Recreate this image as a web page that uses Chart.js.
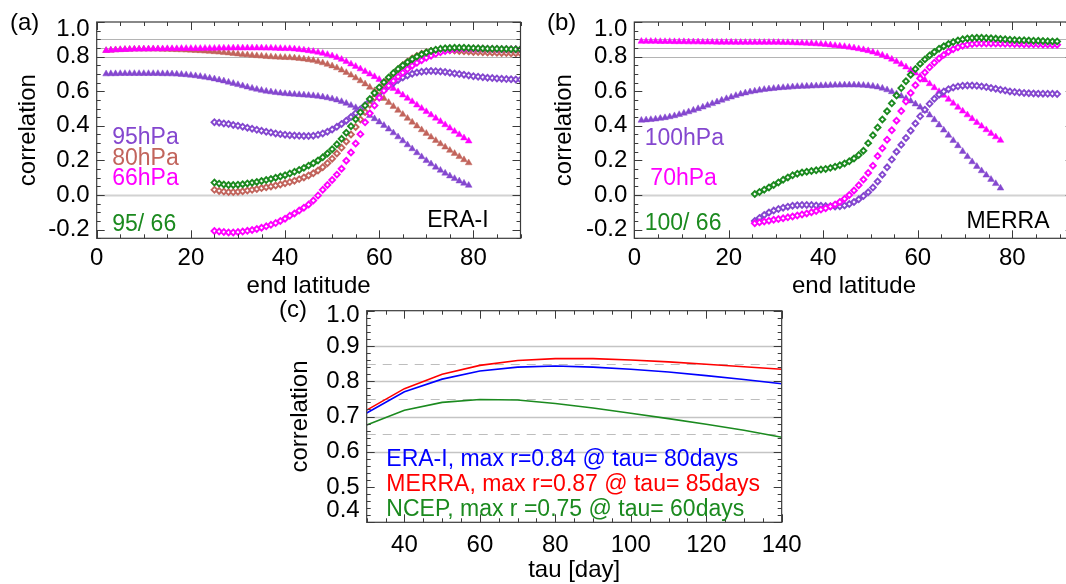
<!DOCTYPE html>
<html><head><meta charset="utf-8">
<script src="https://cdn.jsdelivr.net/npm/chart.js@4.4.0/dist/chart.umd.min.js"></script>
<style>
html,body{margin:0;padding:0;background:#fff;overflow:hidden;width:1066px;height:584px;position:relative;}
canvas{position:absolute;}
</style></head><body>
<canvas id="ca" width="560" height="300" style="left:0;top:0"></canvas>
<canvas id="cb" width="560" height="300" style="left:540px;top:0"></canvas>
<canvas id="cc" width="540" height="294" style="left:270px;top:290px"></canvas>
<script>
// ---------------- DATA ----------------
// Panel (a) ERA-I : triangles start at 2N (1 deg step), diamonds start at 25N
const eraTriStart = 2, eraDiaStart = 25;
const eraTri95 = [0.700,0.701,0.701,0.702,0.702,0.702,0.702,0.702,0.702,0.702,0.702,0.702,0.701,0.701,0.700,0.699,0.697,0.695,0.692,
 0.689,0.685,0.681,0.676,0.671,0.665,0.659,0.652,0.645,0.638,0.631,0.624,0.617,0.611,0.605,0.600,0.596,0.592,0.589,0.586,
 0.584,0.582,0.580,0.578,0.576,0.574,0.571,0.567,0.562,0.556,0.549,0.540,0.530,0.518,0.505,0.491,0.476,0.459,0.441,0.422,
 0.402,0.381,0.359,0.336,0.313,0.290,0.267,0.244,0.221,0.199,0.180,0.161,0.143,0.126,0.110,0.095,0.081,0.068,0.056];
const eraTri80 = [0.835,0.837,0.839,0.840,0.841,0.842,0.843,0.843,0.843,0.843,0.843,0.843,0.842,0.842,0.841,0.840,0.839,0.838,0.837,
 0.835,0.834,0.832,0.830,0.828,0.826,0.823,0.821,0.818,0.815,0.812,0.810,0.807,0.805,0.803,0.801,0.799,0.797,0.796,0.795,
 0.794,0.792,0.789,0.786,0.782,0.778,0.771,0.764,0.755,0.746,0.735,0.722,0.708,0.693,0.677,0.660,0.642,0.623,0.603,0.580,
 0.558,0.535,0.512,0.489,0.466,0.443,0.421,0.399,0.377,0.356,0.335,0.315,0.296,0.277,0.258,0.240,0.222,0.204,0.186];
const eraTri66 = [0.835,0.837,0.839,0.840,0.841,0.842,0.843,0.843,0.844,0.844,0.845,0.845,0.845,0.846,0.846,0.846,0.847,0.847,0.847,
 0.847,0.847,0.848,0.848,0.848,0.849,0.849,0.849,0.850,0.850,0.850,0.850,0.850,0.850,0.850,0.849,0.849,0.848,0.847,0.846,
 0.846,0.844,0.841,0.838,0.834,0.830,0.825,0.819,0.812,0.804,0.795,0.784,0.771,0.757,0.743,0.729,0.714,0.699,0.684,0.668,
 0.653,0.635,0.616,0.597,0.578,0.559,0.540,0.520,0.501,0.482,0.463,0.444,0.425,0.406,0.387,0.368,0.349,0.330,0.312];
const eraDia95 = [0.421,0.418,0.414,0.410,0.405,0.400,0.395,0.389,0.383,0.377,0.371,0.366,0.361,0.356,0.352,0.349,
 0.346,0.344,0.342,0.341,0.341,0.343,0.348,0.356,0.366,0.379,
 0.394,0.411,0.430,0.451,0.473,0.496,0.519,0.542,0.565,0.588,
 0.610,0.630,0.648,0.665,0.679,0.691,0.701,0.708,0.713,0.716,
 0.717,0.716,0.714,0.711,0.707,0.703,0.699,0.695,0.691,0.687,
 0.684,0.681,0.678,0.676,0.674,0.672,0.670,0.669,0.668,0.667];
const eraDia80 = [0.030,0.024,0.020,0.017,0.017,0.019,0.022,0.026,0.030,0.035,0.040,0.045,0.050,0.055,0.061,0.068,
 0.075,0.083,0.092,0.102,0.113,0.126,0.142,0.161,0.184,0.210,
 0.240,0.273,0.310,0.350,0.393,0.437,0.480,0.522,0.562,0.600,
 0.636,0.669,0.699,0.726,0.750,0.771,0.789,0.804,0.816,0.825,
 0.832,0.836,0.838,0.838,0.837,0.835,0.833,0.831,0.829,0.827,
 0.826,0.825,0.824,0.823,0.822,0.821,0.821,0.820,0.820,0.819];
const eraDia66 = [-0.208,-0.211,-0.214,-0.216,-0.216,-0.214,-0.211,-0.207,-0.202,-0.196,-0.189,-0.181,-0.172,-0.162,-0.150,-0.137,
 -0.120,-0.106,-0.090,-0.073,-0.055,-0.032,-0.003,0.030,0.058,0.087,
 0.118,0.152,0.198,0.246,0.298,0.352,0.420,0.472,0.518,0.562,
 0.603,0.632,0.659,0.684,0.707,0.728,0.747,0.764,0.779,0.793,
 0.805,0.816,0.825,0.832,0.838,0.842,0.845,0.846,0.846,0.846,
 0.845,0.845,0.844,0.844,0.843,0.843,0.842,0.842,0.842,0.841];
const eraDia95_66 = [0.072,0.066,0.061,0.058,0.058,0.060,0.063,0.067,0.071,0.076,0.081,0.087,0.093,0.100,0.107,0.115,
 0.124,0.134,0.145,0.157,0.170,0.184,0.200,0.218,0.240,0.265,
 0.293,0.325,0.360,0.398,0.438,0.478,0.517,0.555,0.590,0.622,
 0.652,0.680,0.705,0.728,0.749,0.768,0.785,0.800,0.813,0.824,
 0.833,0.840,0.845,0.848,0.850,0.851,0.851,0.851,0.850,0.849,
 0.848,0.847,0.846,0.845,0.845,0.844,0.844,0.843,0.843,0.842];

// Panel (b) MERRA : triangles start at 1.5N, diamonds at 25.5N (1 deg step)
const merTriStart = 1.5, merDiaStart = 25.5;
const merTri100 = [0.432,0.434,0.436,0.439,0.443,0.447,0.452,0.458,0.465,0.473,0.481,0.490,0.499,0.508,0.518,0.528,0.538,0.548,0.557,0.566,
 0.575,0.583,0.590,0.596,0.601,0.606,0.610,0.613,0.616,0.619,0.621,0.623,0.625,0.627,0.628,0.629,0.630,0.631,0.632,0.633,
 0.634,0.635,0.635,0.636,0.636,0.636,0.635,0.634,0.632,0.629,0.624,0.617,0.608,0.597,0.585,0.572,0.558,0.543,0.526,0.508,
 0.488,0.462,0.435,0.405,0.375,0.345,0.315,0.285,0.252,0.222,0.192,0.165,0.140,0.115,0.090,0.066,0.040];
const merTri70 = [0.888,0.888,0.888,0.888,0.887,0.887,0.887,0.886,0.886,0.886,0.885,0.885,0.885,0.884,0.884,0.884,0.883,0.883,0.883,0.883,
 0.882,0.882,0.882,0.882,0.882,0.882,0.882,0.882,0.882,0.882,0.881,0.881,0.880,0.879,0.878,0.877,0.876,0.874,0.872,0.870,
 0.867,0.864,0.861,0.858,0.854,0.850,0.845,0.840,0.834,0.826,0.818,0.808,0.798,0.785,0.771,0.756,0.740,0.723,0.705,0.686,
 0.665,0.643,0.620,0.598,0.576,0.553,0.530,0.507,0.485,0.463,0.441,0.419,0.398,0.377,0.356,0.336,0.316];
const merDia100 = [-0.150,-0.132,-0.115,-0.101,-0.090,-0.081,-0.073,-0.067,-0.062,-0.059,-0.057,-0.057,-0.058,-0.060,-0.062,-0.064,
 -0.065,-0.066,-0.065,-0.060,-0.052,-0.040,-0.025,-0.006,0.016,0.043,
 0.078,0.117,0.160,0.205,0.250,0.290,0.330,0.372,0.414,0.455,
 0.493,0.527,0.556,0.580,0.598,0.612,0.622,0.628,0.632,0.633,
 0.633,0.631,0.628,0.624,0.619,0.614,0.609,0.604,0.599,0.595,
 0.592,0.590,0.588,0.587,0.586,0.586,0.585,0.585,0.584];
const merDia70 = [-0.163,-0.158,-0.153,-0.148,-0.143,-0.139,-0.134,-0.129,-0.124,-0.118,-0.112,-0.106,-0.099,-0.092,-0.084,-0.076,
 -0.066,-0.054,-0.040,-0.022,0.000,0.026,0.056,0.090,0.128,0.169,
 0.225,0.270,0.320,0.375,0.430,0.485,0.540,0.590,0.635,0.674,
 0.708,0.738,0.765,0.789,0.810,0.828,0.843,0.854,0.863,0.869,
 0.873,0.875,0.876,0.876,0.876,0.875,0.875,0.874,0.874,0.873,
 0.873,0.872,0.872,0.871,0.871,0.870,0.870,0.869,0.869];
const merDia100_66 = [0.006,0.018,0.031,0.044,0.058,0.073,0.088,0.102,0.114,0.123,0.130,0.135,0.139,0.143,0.147,0.151,
 0.157,0.164,0.172,0.182,0.195,0.211,0.231,0.256,0.300,0.345,
 0.390,0.437,0.484,0.530,0.575,0.618,0.658,0.695,0.728,0.758,
 0.784,0.807,0.827,0.845,0.860,0.873,0.884,0.893,0.900,0.905,
 0.908,0.909,0.909,0.908,0.906,0.904,0.902,0.900,0.898,0.896,
 0.895,0.894,0.893,0.892,0.891,0.890,0.889,0.888,0.888];

// Panel (c)
const tauDays = [30,40,50,60,70,80,90,100,110,120,130,140];
const corrERAI  = [0.710,0.770,0.806,0.829,0.840,0.843,0.840,0.834,0.826,0.816,0.805,0.793];
const corrMERRA = [0.718,0.779,0.820,0.845,0.859,0.864,0.864,0.860,0.855,0.848,0.841,0.834];
const corrNCEP  = [0.676,0.718,0.740,0.748,0.747,0.737,0.724,0.709,0.694,0.678,0.661,0.641];

// tick labels
const latTicks = [0,20,40,60,80];
const corrTicksAB = [-0.2,0,0.2,0.4,0.6,0.8,1.0];
const tauTicks = [40,60,80,100,120,140];
const corrTicksC = [0.4,0.5,0.6,0.7,0.8,0.9,1.0];

// ---------------- STYLE ----------------
const PURPLE = '#8447cf', BROWN = '#c2645c', MAGENTA = '#ff00ff', GREEN = '#1b8a1f';
const FONT = "'Liberation Sans', Arial, Helvetica, sans-serif";
const AXC = '#3a3a3a';

function lats(start, n){ return Array.from({length:n}, (_, i) => start + i); }
function pts(xs, ys){ return ys.map((v, i) => ({x: xs[i], y: v})); }
function alpha(hex, a){ const n = parseInt(hex.slice(1),16); return `rgba(${n>>16},${(n>>8)&255},${n&255},${a})`; }
function tri(data, color){ return {data, pointStyle:'triangle', pointRadius:3.9, pointBorderWidth:1, backgroundColor:color, borderColor:alpha(color,0.45), showLine:false}; }
function dia(data, color){ return {data, pointStyle:'rectRot', pointRadius:2.9, pointBorderWidth:1.9, backgroundColor:'#ffffff', borderColor:color, showLine:false}; }
function steps(min, max, st){ const a=[]; for(let i=0;;i++){ const v=+(min+i*st).toFixed(6); if(v>max+1e-9) break; a.push(v);} return a; }

function framePlugin(o){
  return {
    id:'frame'+o.key,
    beforeDatasetsDraw(chart){
      const {ctx, chartArea:a, scales:{x,y}} = chart;
      ctx.save();
      o.grid.forEach(g => {
        const py = Math.round(y.getPixelForValue(g.v)) + 0.5;
        ctx.strokeStyle = g.c; ctx.lineWidth = g.w; ctx.setLineDash(g.d || []);
        ctx.beginPath(); ctx.moveTo(a.left, py); ctx.lineTo(a.right, py); ctx.stroke();
      });
      ctx.restore();
    },
    afterDraw(chart){
      const {ctx, chartArea:a, scales:{x,y}} = chart;
      ctx.save();
      ctx.strokeStyle = AXC; ctx.lineWidth = 1.2; ctx.setLineDash([]);
      ctx.strokeRect(a.left, a.top, a.right-a.left, a.bottom-a.top);
      const tick = (x1,y1,x2,y2)=>{ ctx.beginPath(); ctx.moveTo(x1,y1); ctx.lineTo(x2,y2); ctx.stroke(); };
      ctx.lineWidth = 1;
      steps(o.xmin, o.xmax, o.xminor).forEach(v => {
        const major = o.xmajor.some(m => Math.abs(m-v)<1e-6);
        const L = major ? 8 : 4; const px = Math.round(x.getPixelForValue(v))+0.5;
        tick(px, a.bottom, px, a.bottom-L); tick(px, a.top, px, a.top+L);
      });
      steps(o.ymin, o.ymax, o.yminor).forEach(v => {
        const major = o.ymajor.some(m => Math.abs(m-v)<1e-6);
        const L = major ? 8 : 4; const py = Math.round(y.getPixelForValue(v))+0.5;
        tick(a.left, py, a.left+L, py); tick(a.right, py, a.right-L, py);
      });
      ctx.textBaseline = 'alphabetic'; ctx.textAlign = 'left';
      o.texts.forEach(t => {
        ctx.font = `${t.s||23}px ${FONT}`; ctx.fillStyle = t.c;
        ctx.fillText(t.t, x.getPixelForValue(t.x), y.getPixelForValue(t.y));
      });
      ctx.font = `24px ${FONT}`; ctx.fillStyle = '#000'; ctx.textBaseline = 'middle';
      ctx.fillText(o.letter.t, o.letter.x, o.letter.y);
      ctx.restore();
    }
  };
}

function makeChart(id, datasets, o){
  const tickFont = {family:FONT, size:24};
  const titleFont = {family:FONT, size:24, lineHeight:1.1};
  const shift = o.yshift || {};
  const ylab = v => Number(v).toFixed(1);
  return new Chart(document.getElementById(id), {
    type:'scatter',
    data:{datasets},
    options:{
      responsive:false, animation:false, events:[],
      layout:{padding:o.pad},
      plugins:{legend:{display:false}, tooltip:{enabled:false}},
      elements:{line:{tension:0}},
      scales:{
        x:{type:'linear', min:o.xmin, max:o.xmax,
           afterBuildTicks:s=>{ s.ticks = o.xlabels.map(v=>({value:v})); },
           afterFit:s=>{ s.height = o.xh; },
           grid:{display:false, drawTicks:false}, border:{display:false},
           ticks:{font:tickFont, color:'#000', padding:o.xpad, maxRotation:0, autoSkip:false, callback:v=>String(v)},
           title:{display:true, text:o.xtitle, font:titleFont, color:'#000', padding:{top:0,bottom:0}}},
        y:{type:'linear', min:o.ymin, max:o.ymax,
           afterBuildTicks:s=>{ s.ticks = o.ylabels.map(v=>({value:v})); },
           afterFit:s=>{ s.width = o.yw; },
           grid:{display:false, drawTicks:false}, border:{display:false},
           ticks:{color:'#000', padding:7, autoSkip:false,
             // edge labels are nudged inside the frame, as in the original plot
             callback:v=>{ const s = ylab(v), sh = shift[s]; if(!sh) return s; return sh > 0 ? ['', s] : [s, '']; },
             font:c=>{ const s = c.tick ? ylab(c.tick.value) : null, sh = s && shift[s];
                       return sh ? {family:FONT, size:24, lineHeight:(Math.abs(sh)*2)+'px'} : tickFont; }},
           title:{display:true, text:'correlation', font:titleFont, color:'#000', padding:{top:o.ytp,bottom:0}}}
      }
    },
    plugins:[framePlugin(o)]
  });
}

const gridAB = [
  {v:0.9, c:'#b4b4b4', w:1}, {v:0.85, c:'#b4b4b4', w:1}, {v:0.8, c:'#b4b4b4', w:1}, {v:0.0, c:'#d2d2d2', w:2}
];

// Panel (a)
const xaT = lats(eraTriStart, eraTri95.length), xaD = lats(eraDiaStart, eraDia95.length);
makeChart('ca', [
  dia(pts(xaD, eraDia95_66), GREEN),
  dia(pts(xaD, eraDia66), MAGENTA),
  dia(pts(xaD, eraDia80), BROWN),
  dia(pts(xaD, eraDia95), PURPLE),
  tri(pts(xaT, eraTri66), MAGENTA),
  tri(pts(xaT, eraTri80), BROWN),
  tri(pts(xaT, eraTri95), PURPLE)
], {key:'a', pad:{left:0, right:39.5, top:16.2, bottom:0}, yw:96.7, xh:61.7, xpad:5.5, ytp:15,
  xmin:0, xmax:90, ymin:-0.25, ymax:1.0, xlabels:latTicks, ylabels:corrTicksAB, xtitle:'end latitude', yshift:{'1.0':7.5},
  xmajor:latTicks, xminor:5, ymajor:corrTicksAB, yminor:0.05, grid:gridAB,
  texts:[{t:'95hPa',x:3.3,y:0.293,c:PURPLE},{t:'80hPa',x:3.3,y:0.171,c:BROWN},{t:'66hPa',x:3.3,y:0.059,c:MAGENTA},
         {t:'95/ 66',x:3.3,y:-0.205,c:GREEN},{t:'ERA-I',x:70.2,y:-0.186,c:'#000'}],
  letter:{t:'(a)', x:10, y:23}});

// Panel (b)
const xbT = lats(merTriStart, merTri100.length), xbD = lats(merDiaStart, merDia100.length);
makeChart('cb', [
  dia(pts(xbD, merDia100_66), GREEN),
  dia(pts(xbD, merDia70), MAGENTA),
  dia(pts(xbD, merDia100), PURPLE),
  tri(pts(xbT, merTri70), MAGENTA),
  tri(pts(xbT, merTri100), PURPLE)
], {key:'b', pad:{left:0, right:26.3, top:16.2, bottom:0}, yw:94.3, xh:61.7, xpad:5.5, ytp:11.5,
  xmin:0, xmax:93, ymin:-0.25, ymax:1.0, xlabels:latTicks, ylabels:corrTicksAB, xtitle:'end latitude', yshift:{'1.0':7.5},
  xmajor:latTicks, xminor:5, ymajor:corrTicksAB, yminor:0.05, grid:gridAB,
  texts:[{t:'100hPa',x:2.2,y:0.291,c:PURPLE},{t:'70hPa',x:3.4,y:0.056,c:MAGENTA},
         {t:'100/ 66',x:2.2,y:-0.203,c:GREEN},{t:'MERRA',x:70.3,y:-0.188,c:'#000'}],
  letter:{t:'(b)', x:7, y:23}});

// Panel (c)
const line = (data, color) => ({data, showLine:true, pointRadius:0, borderColor:color, borderWidth:1.6, backgroundColor:color});
makeChart('cc', [
  line(pts(tauDays, corrMERRA), '#ff0000'),
  line(pts(tauDays, corrERAI), '#0000ff'),
  line(pts(tauDays, corrNCEP), GREEN)
], {key:'c', pad:{left:0, right:23.3, top:20.7, bottom:0}, yw:96.7, xh:61.7, xpad:8.3, ytp:16.8,
  xmin:30, xmax:140, ymin:0.4, ymax:1.0, xlabels:tauTicks, ylabels:corrTicksC, xtitle:'tau [day]', yshift:{'1.0':4.5,'0.4':-12},
  xmajor:tauTicks, xminor:5, ymajor:corrTicksC, yminor:0.02,
  grid:[{v:0.9,c:'#c4c4c4',w:1.5},{v:0.8,c:'#c4c4c4',w:1.5},{v:0.7,c:'#c4c4c4',w:1.5},{v:0.6,c:'#c4c4c4',w:1.5},
        {v:0.85,c:'#bdbdbd',w:1.2,d:[9,7]},{v:0.75,c:'#bdbdbd',w:1.2,d:[9,7]},{v:0.65,c:'#bdbdbd',w:1.2,d:[9,7]}],
  texts:[{t:'ERA-I, max r=0.84 @ tau= 80days',x:35.2,y:0.56,c:'#0000ff'},
         {t:'MERRA, max r=0.87 @ tau= 85days',x:35.2,y:0.49,c:'#ff0000'},
         {t:'NCEP, max r =0.75 @ tau= 60days',x:35.2,y:0.419,c:GREEN}],
  letter:{t:'(c)', x:9, y:20}});
</script>
</body></html>
